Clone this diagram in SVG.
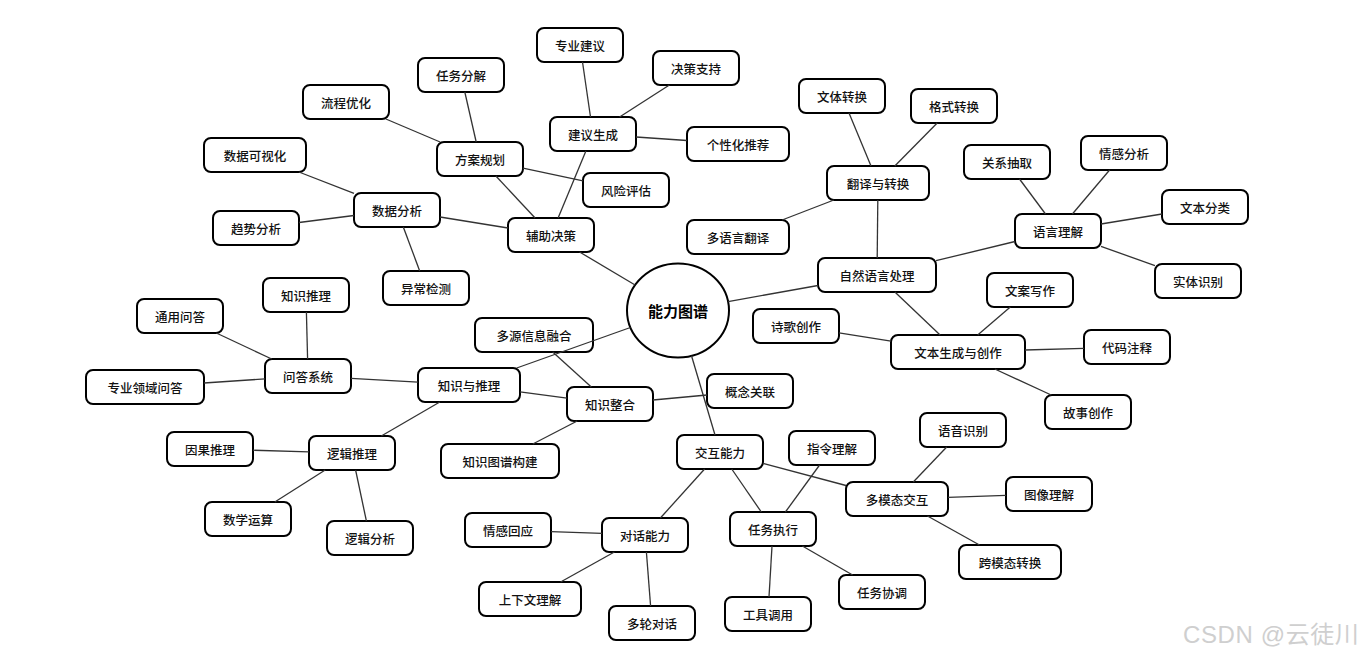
<svg xmlns="http://www.w3.org/2000/svg" width="1365" height="657" viewBox="0 0 1365 657">
<style>
.n rect{fill:#fff;stroke:#000;stroke-width:2}
.n text{font-family:"Noto Sans CJK SC","Noto Sans",sans-serif;font-size:12.5px;font-weight:500;fill:#111;text-anchor:middle;dominant-baseline:central}
.root ellipse{fill:#fff;stroke:#000;stroke-width:2}
.root text{font-family:"Noto Sans CJK SC","Noto Sans",sans-serif;font-size:15px;font-weight:bold;fill:#000;text-anchor:middle;dominant-baseline:central}
#edges line{stroke:#333;stroke-width:1.3}
.wm{font-family:"Liberation Sans","Noto Sans CJK SC",sans-serif;font-size:24px;fill:#cfcfcf;letter-spacing:0.6px}
</style>
<rect width="1365" height="657" fill="#fff"/>
<g id="nodes">
<g id="root" class="root"><ellipse cx="678" cy="310.5" rx="51" ry="47"/><text x="678" y="310.5">能力图谱</text></g>
<g id="n-fzjc" class="n"><rect x="508" y="218" width="86" height="34" rx="7"/><text x="551" y="235">辅助决策</text></g>
<g id="n-sjfx" class="n"><rect x="354" y="193" width="86" height="34" rx="7"/><text x="397" y="210">数据分析</text></g>
<g id="n-sjksh" class="n"><rect x="204" y="138" width="102" height="34" rx="7"/><text x="255" y="155">数据可视化</text></g>
<g id="n-qsfx" class="n"><rect x="213" y="211" width="86" height="34" rx="7"/><text x="256" y="228">趋势分析</text></g>
<g id="n-ycjc" class="n"><rect x="383" y="271" width="86" height="34" rx="7"/><text x="426" y="288">异常检测</text></g>
<g id="n-fagh" class="n"><rect x="437" y="142" width="86" height="34" rx="7"/><text x="480" y="159">方案规划</text></g>
<g id="n-lcyh" class="n"><rect x="303" y="85" width="86" height="34" rx="7"/><text x="346" y="102">流程优化</text></g>
<g id="n-rwfj" class="n"><rect x="418" y="58" width="86" height="34" rx="7"/><text x="461" y="75">任务分解</text></g>
<g id="n-fxpg" class="n"><rect x="583" y="173" width="86" height="34" rx="7"/><text x="626" y="190">风险评估</text></g>
<g id="n-jysc" class="n"><rect x="550" y="117" width="86" height="34" rx="7"/><text x="593" y="134">建议生成</text></g>
<g id="n-zyjy" class="n"><rect x="537" y="28" width="86" height="34" rx="7"/><text x="580" y="45">专业建议</text></g>
<g id="n-jczc" class="n"><rect x="653" y="51" width="86" height="34" rx="7"/><text x="696" y="68">决策支持</text></g>
<g id="n-gxhtj" class="n"><rect x="687" y="127" width="102" height="34" rx="7"/><text x="738" y="144">个性化推荐</text></g>
<g id="n-zryycl" class="n"><rect x="818" y="258" width="118" height="34" rx="7"/><text x="877" y="275">自然语言处理</text></g>
<g id="n-fyyzh" class="n"><rect x="827" y="166" width="102" height="34" rx="7"/><text x="878" y="183">翻译与转换</text></g>
<g id="n-wtzh" class="n"><rect x="799" y="79" width="86" height="34" rx="7"/><text x="842" y="96">文体转换</text></g>
<g id="n-gszh" class="n"><rect x="911" y="89" width="86" height="34" rx="7"/><text x="954" y="106">格式转换</text></g>
<g id="n-dyyfy" class="n"><rect x="687" y="220" width="102" height="34" rx="7"/><text x="738" y="237">多语言翻译</text></g>
<g id="n-yylj" class="n"><rect x="1015" y="214" width="86" height="34" rx="7"/><text x="1058" y="231">语言理解</text></g>
<g id="n-gxcq" class="n"><rect x="964" y="145" width="86" height="34" rx="7"/><text x="1007" y="162">关系抽取</text></g>
<g id="n-qgfx" class="n"><rect x="1081" y="136" width="86" height="34" rx="7"/><text x="1124" y="153">情感分析</text></g>
<g id="n-wbfl" class="n"><rect x="1162" y="190" width="86" height="34" rx="7"/><text x="1205" y="207">文本分类</text></g>
<g id="n-stsb" class="n"><rect x="1155" y="264" width="86" height="34" rx="7"/><text x="1198" y="281">实体识别</text></g>
<g id="n-wbsc" class="n"><rect x="891" y="335" width="134" height="34" rx="7"/><text x="958" y="352">文本生成与创作</text></g>
<g id="n-sgcz" class="n"><rect x="753" y="309" width="86" height="34" rx="7"/><text x="796" y="326">诗歌创作</text></g>
<g id="n-waxz" class="n"><rect x="987" y="273" width="86" height="34" rx="7"/><text x="1030" y="290">文案写作</text></g>
<g id="n-dmzs" class="n"><rect x="1084" y="330" width="86" height="34" rx="7"/><text x="1127" y="347">代码注释</text></g>
<g id="n-gscz" class="n"><rect x="1045" y="395" width="86" height="34" rx="7"/><text x="1088" y="412">故事创作</text></g>
<g id="n-zsytl" class="n"><rect x="418" y="368" width="102" height="34" rx="7"/><text x="469" y="385">知识与推理</text></g>
<g id="n-wdxt" class="n"><rect x="265" y="359" width="86" height="34" rx="7"/><text x="308" y="376">问答系统</text></g>
<g id="n-tywd" class="n"><rect x="137" y="299" width="86" height="34" rx="7"/><text x="180" y="316">通用问答</text></g>
<g id="n-zstl" class="n"><rect x="263" y="278" width="86" height="34" rx="7"/><text x="306" y="295">知识推理</text></g>
<g id="n-zylywd" class="n"><rect x="86" y="370" width="118" height="34" rx="7"/><text x="145" y="387">专业领域问答</text></g>
<g id="n-ljtl" class="n"><rect x="309" y="436" width="86" height="34" rx="7"/><text x="352" y="453">逻辑推理</text></g>
<g id="n-ygtl" class="n"><rect x="167" y="432" width="86" height="34" rx="7"/><text x="210" y="449">因果推理</text></g>
<g id="n-sxys" class="n"><rect x="205" y="502" width="86" height="34" rx="7"/><text x="248" y="519">数学运算</text></g>
<g id="n-ljfx" class="n"><rect x="327" y="521" width="86" height="34" rx="7"/><text x="370" y="538">逻辑分析</text></g>
<g id="n-zszh" class="n"><rect x="567" y="387" width="86" height="34" rx="7"/><text x="610" y="404">知识整合</text></g>
<g id="n-dyxxrh" class="n"><rect x="475" y="318" width="118" height="34" rx="7"/><text x="534" y="335">多源信息融合</text></g>
<g id="n-gngl" class="n"><rect x="707" y="374" width="86" height="34" rx="7"/><text x="750" y="391">概念关联</text></g>
<g id="n-zstpgj" class="n"><rect x="441" y="444" width="118" height="34" rx="7"/><text x="500" y="461">知识图谱构建</text></g>
<g id="n-jhnl" class="n"><rect x="677" y="435" width="86" height="34" rx="7"/><text x="720" y="452">交互能力</text></g>
<g id="n-dhnl" class="n"><rect x="602" y="518" width="86" height="34" rx="7"/><text x="645" y="535">对话能力</text></g>
<g id="n-qghy" class="n"><rect x="465" y="513" width="86" height="34" rx="7"/><text x="508" y="530">情感回应</text></g>
<g id="n-sxwlj" class="n"><rect x="479" y="582" width="102" height="34" rx="7"/><text x="530" y="599">上下文理解</text></g>
<g id="n-dldh" class="n"><rect x="609" y="606" width="86" height="34" rx="7"/><text x="652" y="623">多轮对话</text></g>
<g id="n-rwzx" class="n"><rect x="730" y="512" width="86" height="34" rx="7"/><text x="773" y="529">任务执行</text></g>
<g id="n-zllj" class="n"><rect x="789" y="431" width="86" height="34" rx="7"/><text x="832" y="448">指令理解</text></g>
<g id="n-gjdy" class="n"><rect x="725" y="597" width="86" height="34" rx="7"/><text x="768" y="614">工具调用</text></g>
<g id="n-rwxt" class="n"><rect x="839" y="575" width="86" height="34" rx="7"/><text x="882" y="592">任务协调</text></g>
<g id="n-dmtjh" class="n"><rect x="846" y="482" width="102" height="34" rx="7"/><text x="897" y="499">多模态交互</text></g>
<g id="n-yysb" class="n"><rect x="920" y="413" width="86" height="34" rx="7"/><text x="963" y="430">语音识别</text></g>
<g id="n-txlj" class="n"><rect x="1006" y="477" width="86" height="34" rx="7"/><text x="1049" y="494">图像理解</text></g>
<g id="n-kmtzh" class="n"><rect x="959" y="545" width="102" height="34" rx="7"/><text x="1010" y="562">跨模态转换</text></g>
</g>
<g id="edges">
<line x1="635.1" y1="285" x2="579.6" y2="252"/>
<line x1="728.1" y1="301.6" x2="818" y2="285.5"/>
<line x1="630.4" y1="327.5" x2="516.7" y2="368"/>
<line x1="691.5" y1="355.8" x2="715" y2="435"/>
<line x1="508" y1="228" x2="440" y2="217"/>
<line x1="535.1" y1="218" x2="495.9" y2="176"/>
<line x1="558.1" y1="218" x2="585.9" y2="151"/>
<line x1="354" y1="193.3" x2="298.9" y2="172"/>
<line x1="354" y1="215.5" x2="299" y2="222.5"/>
<line x1="403.3" y1="227" x2="419.7" y2="271"/>
<line x1="440.1" y1="142" x2="385.9" y2="119"/>
<line x1="476.2" y1="142" x2="464.8" y2="92"/>
<line x1="523" y1="168.1" x2="583" y2="180.9"/>
<line x1="590.5" y1="117" x2="582.5" y2="62"/>
<line x1="619.6" y1="117" x2="669.4" y2="85"/>
<line x1="636" y1="137" x2="687" y2="140.5"/>
<line x1="877.2" y1="258" x2="877.8" y2="200"/>
<line x1="936" y1="260.7" x2="1015" y2="241.5"/>
<line x1="894.9" y1="292" x2="940.1" y2="335"/>
<line x1="871" y1="166" x2="849" y2="113"/>
<line x1="894.8" y1="166" x2="937.2" y2="123"/>
<line x1="833.9" y1="200" x2="782.1" y2="220"/>
<line x1="1045.5" y1="214" x2="1019.5" y2="179"/>
<line x1="1072.4" y1="214" x2="1109.6" y2="170"/>
<line x1="1101" y1="224" x2="1162" y2="214"/>
<line x1="1101" y1="246.4" x2="1155" y2="265.6"/>
<line x1="891" y1="341.2" x2="839" y2="332.9"/>
<line x1="977.7" y1="335" x2="1010.3" y2="307"/>
<line x1="1025" y1="350" x2="1084" y2="348.3"/>
<line x1="994.8" y1="369" x2="1051.2" y2="395"/>
<line x1="418" y1="382.1" x2="351" y2="378.4"/>
<line x1="439.8" y1="402" x2="381.3" y2="436"/>
<line x1="520" y1="391.9" x2="567" y2="398.2"/>
<line x1="271.7" y1="359" x2="216.3" y2="333"/>
<line x1="307.6" y1="359" x2="306.4" y2="312"/>
<line x1="265" y1="378.9" x2="204" y2="383"/>
<line x1="309" y1="451.8" x2="253" y2="450.2"/>
<line x1="325.2" y1="470" x2="274.8" y2="502"/>
<line x1="355.6" y1="470" x2="366.4" y2="521"/>
<line x1="591.3" y1="387" x2="552.7" y2="352"/>
<line x1="653" y1="400" x2="707" y2="395"/>
<line x1="577.2" y1="421" x2="532.8" y2="444"/>
<line x1="704.6" y1="469" x2="660.4" y2="518"/>
<line x1="731.7" y1="469" x2="761.3" y2="512"/>
<line x1="763" y1="463.4" x2="846" y2="485.5"/>
<line x1="602" y1="533.4" x2="551" y2="531.6"/>
<line x1="614.4" y1="552" x2="560.6" y2="582"/>
<line x1="646.4" y1="552" x2="650.6" y2="606"/>
<line x1="785.4" y1="512" x2="819.6" y2="465"/>
<line x1="772" y1="546" x2="769" y2="597"/>
<line x1="802.4" y1="546" x2="852.6" y2="575"/>
<line x1="913.3" y1="482" x2="946.7" y2="447"/>
<line x1="948" y1="497.3" x2="1006" y2="495.4"/>
<line x1="927.5" y1="516" x2="979.5" y2="545"/>
</g>
<text class="wm" x="1183" y="643">CSDN @云徒川</text>
</svg>
